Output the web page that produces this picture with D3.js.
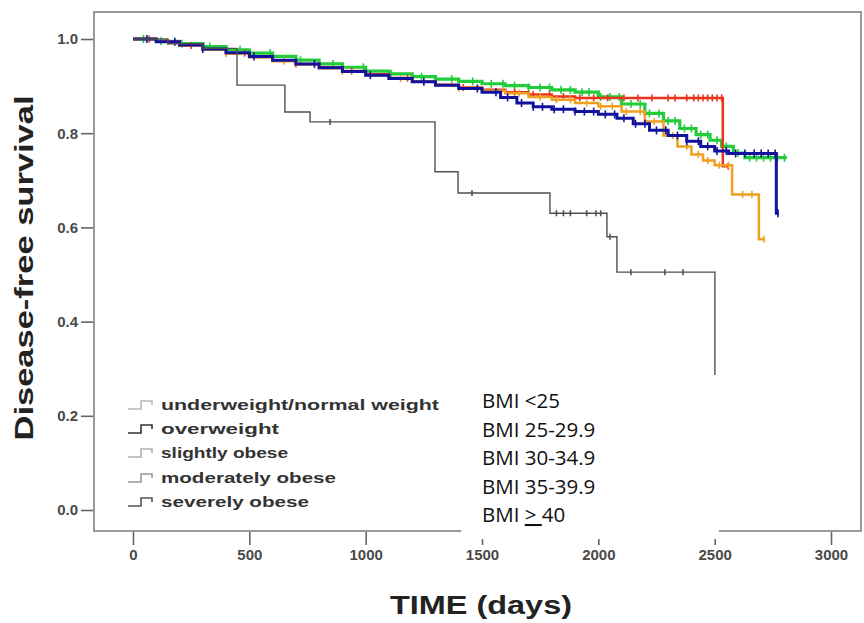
<!DOCTYPE html>
<html>
<head>
<meta charset="utf-8">
<script src="https://cdn.jsdelivr.net/npm/d3@7/dist/d3.min.js"></script>
<style>
  html, body { margin: 0; padding: 0; background: #fff; }
  svg { display: block; }
</style>
</head>
<body>
<svg id="chart" width="864" height="623"></svg>
<script>
// ---------------- DATA ----------------
const xTickValues = [0, 500, 1000, 1500, 2000, 2500, 3000];
const yTickValues = [0.0, 0.2, 0.4, 0.6, 0.8, 1.0];

const legendLabels = ["underweight/normal weight", "overweight", "slightly obese", "moderately obese", "severely obese"];
const bmiLabels = ["BMI <25", "BMI 25-29.9", "BMI 30-34.9", "BMI 35-39.9"];

// Kaplan-Meier step points [time (days), survival]
const normalWeight = [[0,1.0],[100,0.995],[200,0.99],[300,0.984],[400,0.977],[500,0.97],[600,0.963],[700,0.955],[800,0.947],[900,0.94],[1000,0.932],[1100,0.926],[1200,0.92],[1300,0.915],[1400,0.91],[1500,0.905],[1600,0.901],[1700,0.897],[1800,0.892],[1900,0.887],[2000,0.877],[2100,0.862],[2200,0.842],[2280,0.826],[2350,0.81],[2420,0.797],[2480,0.785],[2530,0.772],[2580,0.758],[2630,0.748],[2810,0.748]];
const normalWeightCensored = [45,120,210,330,460,590,720,860,990,1110,1240,1370,1460,1540,1590,1640,1700,1750,1790,1840,1880,1930,1960,2010,2050,2090,2140,2180,2220,2260,2300,2330,2370,2400,2440,2470,2510,2550,2600,2650,2680,2710,2740,2770,2800];

const overweight = [[0,1.0],[100,0.994],[200,0.987],[300,0.979],[400,0.971],[500,0.963],[600,0.955],[700,0.947],[800,0.939],[900,0.931],[1000,0.923],[1100,0.916],[1200,0.909],[1300,0.902],[1400,0.895],[1500,0.887],[1580,0.876],[1650,0.864],[1720,0.856],[1800,0.851],[1900,0.846],[2000,0.84],[2080,0.832],[2150,0.82],[2220,0.806],[2300,0.795],[2380,0.783],[2440,0.772],[2500,0.762],[2560,0.757],[2765,0.757],[2765,0.63],[2775,0.63]];
const overweightCensored = [60,180,300,520,780,1020,1250,1480,1560,1610,1670,1720,1760,1810,1850,1900,1940,1980,2030,2070,2110,2160,2200,2250,2290,2340,2380,2430,2470,2510,2550,2590,2630,2670,2700,2730,2760,2772];

const slightlyObese = [[0,1.0],[100,0.995],[200,0.986],[300,0.978],[400,0.97],[500,0.962],[600,0.955],[700,0.947],[800,0.94],[900,0.932],[1000,0.925],[1100,0.917],[1200,0.91],[1300,0.903],[1400,0.897],[1500,0.892],[1600,0.887],[1700,0.882],[1800,0.878],[1900,0.875],[2535,0.875],[2535,0.73],[2560,0.73]];
const slightlyObeseCensored = [70,250,480,700,940,1180,1420,1640,1720,1790,1850,1920,1980,2040,2110,2170,2230,2300,2330,2380,2410,2430,2450,2470,2490,2510,2530,2558];

const moderatelyObese = [[0,1.0],[100,0.994],[200,0.986],[300,0.977],[400,0.969],[500,0.961],[600,0.953],[700,0.946],[800,0.938],[900,0.931],[1000,0.923],[1100,0.916],[1200,0.909],[1300,0.902],[1400,0.896],[1500,0.89],[1600,0.885],[1700,0.877],[1800,0.871],[1900,0.864],[2000,0.857],[2100,0.846],[2200,0.825],[2280,0.795],[2340,0.772],[2400,0.755],[2450,0.742],[2500,0.732],[2575,0.732],[2575,0.67],[2690,0.67],[2690,0.575],[2715,0.575]];
const moderatelyObeseCensored = [150,400,650,900,1150,1400,1660,1750,1820,1880,1950,2010,2060,2120,2180,2240,2320,2380,2430,2470,2520,2560,2620,2660,2712];

const severelyObese = [[0,1.0],[150,0.99],[300,0.98],[447,0.97],[447,0.902],[653,0.902],[653,0.845],[761,0.845],[761,0.824],[1298,0.824],[1298,0.718],[1397,0.718],[1397,0.673],[1792,0.673],[1792,0.63],[2037,0.63],[2037,0.58],[2080,0.58],[2080,0.505],[2501,0.505],[2501,0.0]];
const severelyObeseCensored = [847,1457,1820,1850,1880,1950,1990,2010,2050,2140,2286,2364];

// ---------------- SETUP ----------------
const svg = d3.select("#chart");
const x = d3.scaleLinear().domain([0, 3000]).range([133, 831]);
const y = d3.scaleLinear().domain([0, 1]).range([510, 39]);

const frame = { left: 94, top: 12, right: 861, bottom: 531 };
const FONT = "'Liberation Sans', Arial, Helvetica, sans-serif";

svg.append("rect").attr("x", 0).attr("y", 0).attr("width", 864).attr("height", 623).attr("fill", "#fff");

// axes
const yAxis = d3.axisLeft(y).tickValues(yTickValues).tickFormat(d3.format(".1f")).tickSize(13).tickPadding(3);
const gy = svg.append("g").attr("transform", `translate(${frame.left},0)`).call(yAxis);
const xAxis = d3.axisBottom(x).tickValues(xTickValues).tickFormat(d3.format("d")).tickSize(14).tickPadding(4);
const gx = svg.append("g").attr("transform", `translate(0,${frame.bottom})`).call(xAxis);
[gy, gx].forEach(g => {
  g.select(".domain").remove();
  g.selectAll(".tick line").attr("stroke", "#666").attr("stroke-width", 1.6);
  g.selectAll(".tick text").attr("fill", "#4a4a4a").attr("font-family", FONT)
    .attr("font-weight", "bold").attr("font-size", 15);
});

// frame
svg.append("rect")
  .attr("x", frame.left).attr("y", frame.top)
  .attr("width", frame.right - frame.left).attr("height", frame.bottom - frame.top)
  .attr("fill", "none").attr("stroke", "#999").attr("stroke-width", 2);

// axis titles
svg.append("text")
  .attr("transform", "translate(33,268) rotate(-90)")
  .attr("text-anchor", "middle")
  .attr("font-family", FONT).attr("font-weight", "bold").attr("font-size", 26)
  .attr("fill", "#222")
  .attr("textLength", 345).attr("lengthAdjust", "spacingAndGlyphs")
  .text("Disease-free survival");
svg.append("text")
  .attr("x", 481).attr("y", 614)
  .attr("text-anchor", "middle")
  .attr("font-family", FONT).attr("font-weight", "bold").attr("font-size", 26)
  .attr("fill", "#222")
  .attr("textLength", 182).attr("lengthAdjust", "spacingAndGlyphs")
  .text("TIME (days)");

// ---------------- CURVES ----------------
const series = [
  { pts: normalWeight, cens: normalWeightCensored, color: "#22cc3a", width: 3.2, tick: 8 },
  { pts: slightlyObese, cens: slightlyObeseCensored, color: "#e8341c", width: 2.5, tick: 7 },
  { pts: moderatelyObese, cens: moderatelyObeseCensored, color: "#f0a020", width: 2.5, tick: 7 },
  { pts: overweight, cens: overweightCensored, color: "#12129e", width: 3, tick: 8 },
  { pts: severelyObese, cens: severelyObeseCensored, color: "#505050", width: 1.4, tick: 6 }
];

const line = d3.line().x(d => x(d[0])).y(d => y(d[1])).curve(d3.curveStepAfter);
const bis = d3.bisector(d => d[0]).right;
function survAt(pts, t) {
  const i = Math.max(0, bis(pts, t) - 1);
  return pts[i][1];
}

const gCurves = svg.append("g");
series.forEach(s => {
  gCurves.append("path")
    .attr("d", line(s.pts))
    .attr("fill", "none")
    .attr("stroke", s.color)
    .attr("stroke-width", s.width)
    .attr("stroke-linejoin", "miter");
  gCurves.selectAll(null).data(s.cens).enter().append("line")
    .attr("x1", d => x(d)).attr("x2", d => x(d))
    .attr("y1", d => y(survAt(s.pts, d)) - s.tick / 2)
    .attr("y2", d => y(survAt(s.pts, d)) + s.tick / 2)
    .attr("stroke", s.color).attr("stroke-width", 1.6);
});

// ---------------- LEGEND (original) ----------------
const legendColors = ["#b8b8b8", "#333333", "#b0b0b0", "#999999", "#555555"];
const legendY = [405, 429, 453, 478, 502];
const legendLens = [278, 118, 127, 175, 148];
const gLeg = svg.append("g");
legendLabels.forEach((lab, i) => {
  const cy = legendY[i];
  gLeg.append("path")
    .attr("d", `M128,${cy + 4}H141V${cy - 4}H152V${cy}`)
    .attr("fill", "none").attr("stroke", legendColors[i]).attr("stroke-width", 1.6);
  gLeg.append("text")
    .attr("x", 161).attr("y", cy + 5)
    .attr("font-family", FONT).attr("font-weight", "bold").attr("font-size", 15)
    .attr("fill", "#333")
    .attr("textLength", legendLens[i]).attr("lengthAdjust", "spacingAndGlyphs")
    .text(lab);
});

// ---------------- OVERLAY BOX ----------------
svg.append("rect")
  .attr("x", 461).attr("y", 375).attr("width", 258).attr("height", 164)
  .attr("fill", "#fff");
const boxFont = "'Open Sans', 'Noto Sans', sans-serif";
const bmiY = [408, 436.5, 465, 493.5];
bmiLabels.forEach((lab, i) => {
  svg.append("text")
    .attr("x", 482).attr("y", bmiY[i])
    .attr("font-family", boxFont).attr("font-size", 20.5).attr("fill", "#111")
    .text(lab);
});
const last = svg.append("text")
  .attr("x", 482).attr("y", 522)
  .attr("font-family", boxFont).attr("font-size", 20.5).attr("fill", "#111");
last.append("tspan").text("BMI ");
last.append("tspan").style("text-decoration", "underline").text(">\u00a0");
last.append("tspan").text("40");
</script>
</body>
</html>
